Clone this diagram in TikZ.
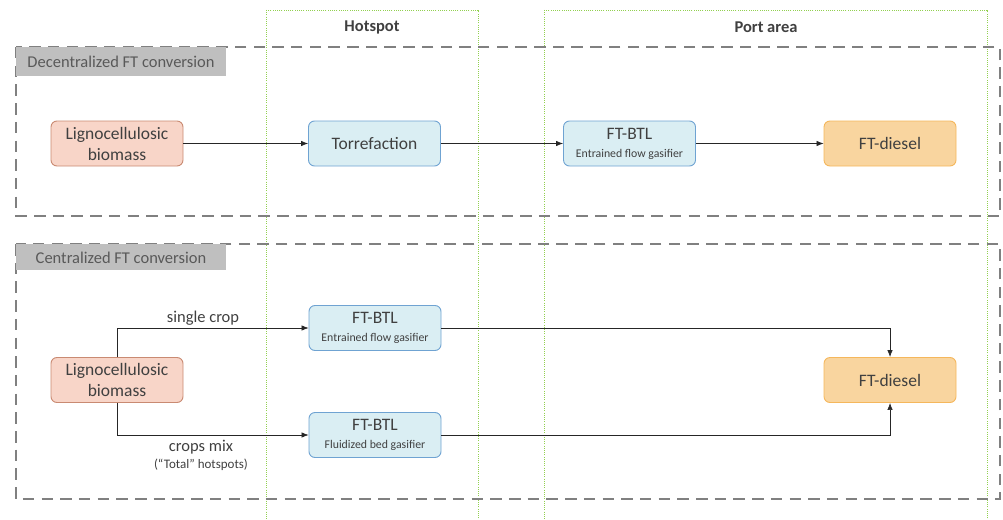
\documentclass[tikz,border=0pt]{standalone}
\usepackage{fontspec}
\setmainfont{Carlito}
\usetikzlibrary{arrows.meta}
\definecolor{txt}{HTML}{404040}
\definecolor{lbltxt}{HTML}{595959}
\definecolor{lblfill}{HTML}{BFBFBF}
\definecolor{dashgray}{HTML}{808080}
\definecolor{zone}{HTML}{92D050}
\definecolor{bioFill}{HTML}{F8D5C8}
\definecolor{bioDraw}{HTML}{C98A72}
\definecolor{procFill}{HTML}{DAEEF3}
\definecolor{procDraw}{HTML}{6FA3D2}
\definecolor{fuelFill}{HTML}{F9D59F}
\definecolor{fuelDraw}{HTML}{F5B75C}
\newcommand\subtxt[1]{{\fontsize{11.8}{13}\selectfont #1}}
\tikzset{
  box/.style={rounded corners=6pt, minimum width=132pt, minimum height=45pt, inner sep=2pt, align=center, text=txt, font=\fontsize{17.5}{21}\selectfont, line width=0.9pt},
  bio/.style={box, fill=bioFill, draw=bioDraw},
  proc/.style={box, fill=procFill, draw=procDraw},
  fuel/.style={box, fill=fuelFill, draw=fuelDraw},
  section/.style={draw=dashgray, line width=2.4pt, dash pattern=on 11.5pt off 7.2pt},
  zonebox/.style={draw=zone, line width=0.9pt, dash pattern=on 1pt off 1.2pt},
  zonelbl/.style={font=\fontsize{16.5}{18}\selectfont\bfseries, text=txt},
  seclbl/.style={font=\fontsize{16.5}{18}\selectfont, text=lbltxt},
  conn/.style={draw=black!85, line width=0.7pt, -{Latex[length=7pt,width=5.5pt]}},
  edgelbl/.style={font=\fontsize{16.5}{18}\selectfont, text=txt},
}
\begin{document}
\begin{tikzpicture}[x=1pt,y=-1pt]
\useasboundingbox (0,0) rectangle (1003,519);
% zones
\draw[zonebox] (266,10) rectangle (478,530);
\draw[zonebox] (544,10) rectangle (987,530);
\node[zonelbl] (hot) at (372,27) {Hotspot};
\node[zonelbl] (port) at (766,27) {Port area};
% sections
\draw[section] (16,47) rectangle (1000,216);
\draw[section] (16,244) rectangle (1000,499);
\fill[lblfill] (16,47) rectangle (226,76);
\fill[lblfill] (16,244) rectangle (226,270);
\node[seclbl] (dec) at (121,62) {Decentralized FT conversion};
\node[seclbl] (cen) at (121,257.5) {Centralized FT conversion};
% top row
\node[bio] (bio1) at (117,143.5) {Lignocellulosic\\biomass};
\node[proc] (torr) at (374.5,143.5) {Torrefaction};
\node[proc] (btl1) at (629.5,143.5) {FT-BTL\\[-3pt]\subtxt{Entrained flow gasifier}};
\node[fuel] (dsl1) at (890,143.5) {FT-diesel};
\draw[conn] (bio1) -- (torr);
\draw[conn] (torr) -- (btl1);
\draw[conn] (btl1) -- (dsl1);
% bottom
\node[bio] (bio2) at (117,380) {Lignocellulosic\\biomass};
\node[proc] (btl2) at (375,328) {FT-BTL\\[-3pt]\subtxt{Entrained flow gasifier}};
\node[proc] (btl3) at (375,435) {FT-BTL\\[-3pt]\subtxt{Fluidized bed gasifier}};
\node[fuel] (dsl2) at (890,380) {FT-diesel};
\draw[conn] (bio2.north) |- (btl2.west);
\draw[conn] (bio2.south) |- (btl3.west);
\draw[conn] (btl2.east) -| (dsl2.north);
\draw[conn] (btl3.east) -| (dsl2.south);
\node[edgelbl] (l1) at (203,318) {single crop};
\node[edgelbl] (l2) at (201,447) {crops mix};
\node[font=\fontsize{13}{14}\selectfont, text=txt] (l3) at (201,465) {(“Total” hotspots)};
\end{tikzpicture}
\end{document}
